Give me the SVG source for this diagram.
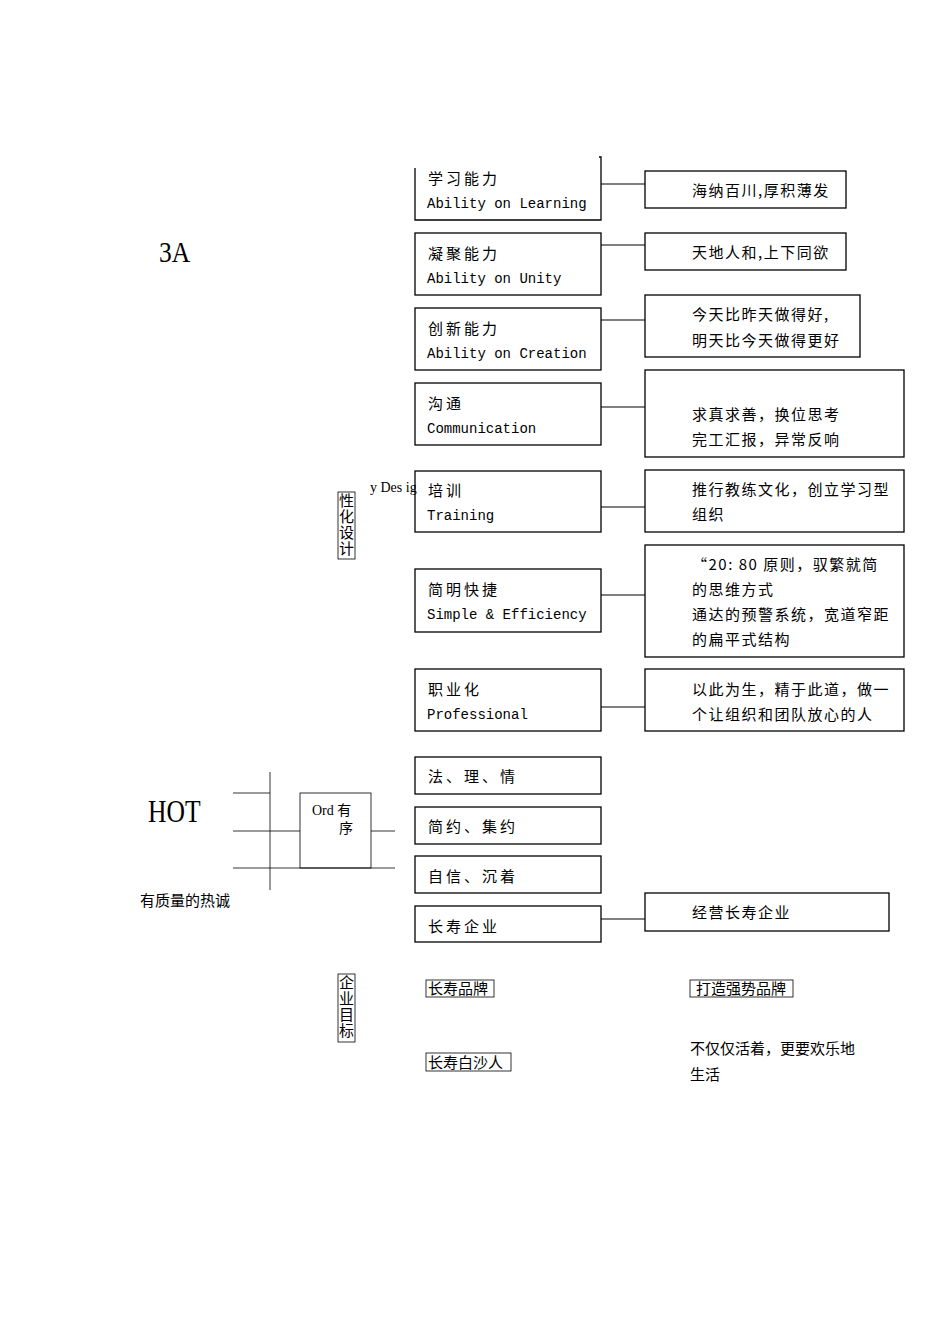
<svg xmlns="http://www.w3.org/2000/svg" width="950" height="1344" viewBox="0 0 950 1344">
<style>
.b{fill:#fff;stroke:#000;stroke-width:1.3}
.t{fill:none;stroke:#000;stroke-width:0.8}
.c{stroke:#000;stroke-width:1.2;fill:none}
.cn{font-family:"Noto Sans CJK SC","Liberation Mono",monospace;font-size:15px;letter-spacing:3px;fill:#000}
.cn2{font-family:"Noto Sans CJK SC","Liberation Mono",monospace;font-size:15px;letter-spacing:1.5px;fill:#000}
.en{font-family:"Liberation Mono",monospace;font-size:14px;fill:#000}
.se{font-family:"Liberation Serif","Noto Sans CJK SC",serif;fill:#000}
</style>
<rect width="950" height="1344" fill="#fff"/>
<g id="connectors">
<line class="c" x1="601" y1="184" x2="645" y2="184"/>
<line class="c" x1="601" y1="245" x2="645" y2="245"/>
<line class="c" x1="601" y1="320" x2="645" y2="320"/>
<line class="c" x1="601" y1="407" x2="645" y2="407"/>
<line class="c" x1="601" y1="507" x2="645" y2="507"/>
<line class="c" x1="601" y1="595" x2="645" y2="595"/>
<line class="c" x1="601" y1="707" x2="645" y2="707"/>
<line class="c" x1="601" y1="919" x2="645" y2="919"/>
<line class="t" x1="270" y1="772" x2="270" y2="890"/>
<line class="t" x1="233" y1="793" x2="270" y2="793"/>
<line class="t" x1="233" y1="831" x2="300" y2="831"/>
<line class="t" x1="233" y1="868" x2="395" y2="868"/>
<line class="t" x1="371" y1="831" x2="395" y2="831"/>
</g>
<g id="n1"><path class="b" d="M415,168 V220 H601 V157 H599"/><text class="cn" x="428" y="184">学习能力</text><text class="en" x="427" y="208">Ability on Learning</text></g>
<g id="n2"><rect class="b" x="415" y="233" width="186" height="62"/><text class="cn" x="428" y="259">凝聚能力</text><text class="en" x="427" y="283">Ability on Unity</text></g>
<g id="n3"><rect class="b" x="415" y="308" width="186" height="62"/><text class="cn" x="428" y="334">创新能力</text><text class="en" x="427" y="358">Ability on Creation</text></g>
<g id="n4"><rect class="b" x="415" y="383" width="186" height="62"/><text class="cn" x="428" y="409">沟通</text><text class="en" x="427" y="433">Communication</text></g>
<g id="n5"><rect class="b" x="415" y="471" width="186" height="61"/><text class="cn" x="428" y="496">培训</text><text class="en" x="427" y="520">Training</text></g>
<g id="n6"><rect class="b" x="415" y="569" width="186" height="63"/><text class="cn" x="428" y="595">简明快捷</text><text class="en" x="427" y="619">Simple &amp; Efficiency</text></g>
<g id="n7"><rect class="b" x="415" y="669" width="186" height="62"/><text class="cn" x="428" y="695">职业化</text><text class="en" x="427" y="719">Professional</text></g>
<g id="n8"><rect class="b" x="415" y="757" width="186" height="37"/><text class="cn" x="428" y="782">法、理、情</text></g>
<g id="n9"><rect class="b" x="415" y="807" width="186" height="37"/><text class="cn" x="428" y="832">简约、集约</text></g>
<g id="n10"><rect class="b" x="415" y="856" width="186" height="37"/><text class="cn" x="428" y="882">自信、沉着</text></g>
<g id="n11"><rect class="b" x="415" y="906" width="186" height="36"/><text class="cn" x="428" y="932">长寿企业</text></g>
<g id="r1"><rect class="b" x="645" y="171" width="201" height="37"/><text class="cn2" x="692" y="196">海纳百川,厚积薄发</text></g>
<g id="r2"><rect class="b" x="645" y="233" width="201" height="37"/><text class="cn2" x="692" y="258">天地人和,上下同欲</text></g>
<g id="r3"><rect class="b" x="645" y="295" width="215" height="62"/><text class="cn2" x="692" y="320">今天比昨天做得好,</text><text class="cn2" x="692" y="346">明天比今天做得更好</text></g>
<g id="r4"><rect class="b" x="645" y="370" width="259" height="87"/><text class="cn2" x="692" y="420">求真求善，换位思考</text><text class="cn2" x="692" y="445">完工汇报，异常反响</text></g>
<g id="r5"><rect class="b" x="645" y="470" width="259" height="62"/><text class="cn2" x="692" y="495">推行教练文化，创立学习型</text><text class="cn2" x="692" y="520">组织</text></g>
<g id="r6"><rect class="b" x="645" y="545" width="259" height="112"/><text class="cn2" x="692" y="570">“20: 80  原则，驭繁就简</text><text class="cn2" x="692" y="595">的思维方式</text><text class="cn2" x="692" y="620">通达的预警系统，宽道窄距</text><text class="cn2" x="692" y="645">的扁平式结构</text></g>
<g id="r7"><rect class="b" x="645" y="669" width="259" height="62"/><text class="cn2" x="692" y="695">以此为生，精于此道，做一</text><text class="cn2" x="692" y="720">个让组织和团队放心的人</text></g>
<g id="r8"><rect class="b" x="645" y="893" width="244" height="38"/><text class="cn2" x="692" y="918">经营长寿企业</text></g>
<g id="title3a"><text class="se" x="159" y="262" font-size="30" transform="translate(159 0) scale(0.85 1) translate(-159 0)">3A</text></g>
<g id="hot"><text class="se" x="148" y="822" font-size="32" transform="translate(148 0) scale(0.8 1) translate(-148 0)">HOT</text></g>
<g id="ord"><rect class="t" x="300" y="793" width="71" height="75"/><text class="se" x="312" y="815" font-size="14">Ord 有</text><text class="se" x="339" y="833" font-size="14">序</text></g>
<g id="sincere"><text class="se" x="140" y="906" font-size="15">有质量的热诚</text></g>
<g id="design"><rect class="t" x="338" y="492" width="17" height="67"/><text class="se" x="339" y="506" font-size="15">性</text><text class="se" x="339" y="522" font-size="15">化</text><text class="se" x="339" y="538" font-size="15">设</text><text class="se" x="339" y="554" font-size="15">计</text><text class="se" x="370" y="492" font-size="14">y Des  ig</text></g>
<g id="goal"><rect class="t" x="338" y="974" width="17" height="68"/><text class="se" x="339" y="988" font-size="15">企</text><text class="se" x="339" y="1004" font-size="15">业</text><text class="se" x="339" y="1020" font-size="15">目</text><text class="se" x="339" y="1036" font-size="15">标</text></g>
<g id="brand"><rect class="t" x="426" y="980" width="68" height="17"/><text class="se" x="428" y="994" font-size="15">长寿品牌</text></g>
<g id="people"><rect class="t" x="426" y="1053" width="85" height="18"/><text class="se" x="428" y="1068" font-size="15">长寿白沙人</text></g>
<g id="strong"><rect class="t" x="690" y="980" width="103" height="17"/><text class="se" x="696" y="994" font-size="15">打造强势品牌</text></g>
<g id="live"><text class="se" x="690" y="1054" font-size="15">不仅仅活着，更要欢乐地</text><text class="se" x="690" y="1080" font-size="15">生活</text></g>
</svg>
